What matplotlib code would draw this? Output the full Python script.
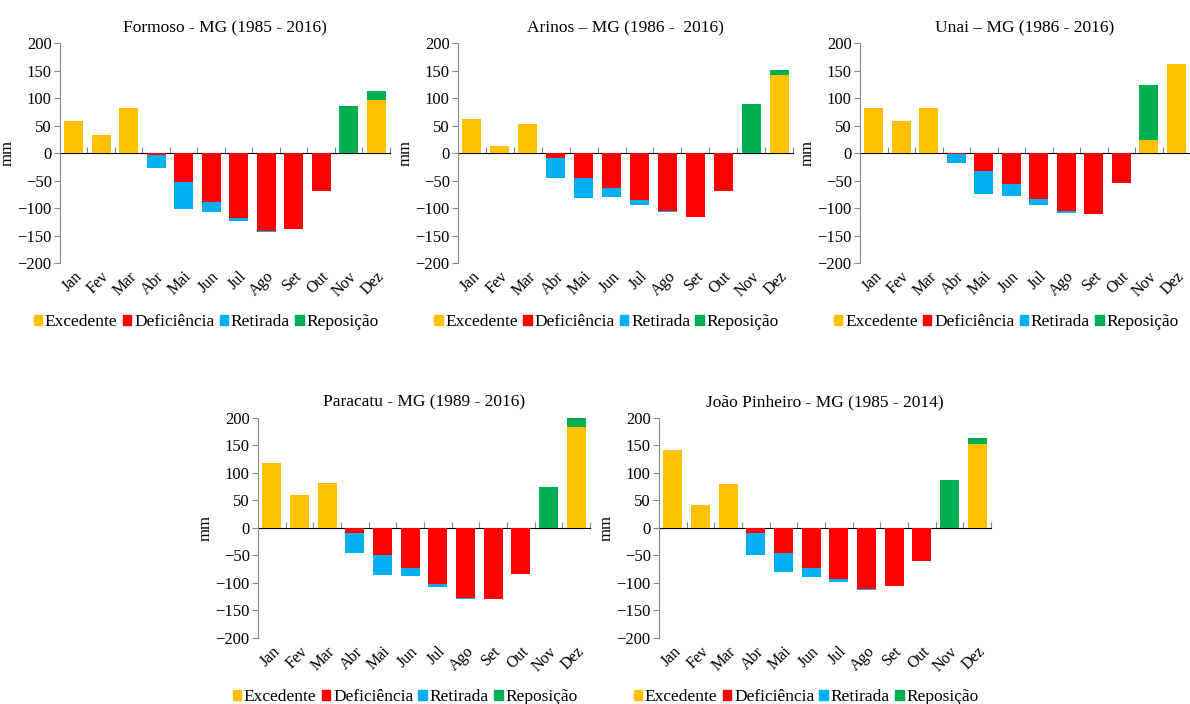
import matplotlib
matplotlib.use("Agg")
import matplotlib.pyplot as plt
from matplotlib.patches import Patch

plt.rcParams['font.family'] = ['Liberation Serif', 'DejaVu Serif']
plt.rcParams['font.size'] = 12

meses = ['Jan', 'Fev', 'Mar', 'Abr', 'Mai', 'Jun', 'Jul', 'Ago', 'Set', 'Out', 'Nov', 'Dez']
series = ['Excedente', 'Deficiência', 'Retirada', 'Reposição']
cores = ['#FFC000', '#FF0000', '#00B0F0', '#00B050']

# Formoso - MG
formoso_exc = [58, 32, 81, 0, 0, 0, 0, 0, 0, 0, 0, 97]
formoso_def = [0, 0, 0, -3, -53, -89, -118, -142, -139, -69, 0, 0]
formoso_ret = [0, 0, 0, -25, -48, -18, -5, -1, 0, 0, 0, 0]
formoso_rep = [0, 0, 0, 0, 0, 0, 0, 0, 0, 0, 85, 15]

# Arinos - MG
arinos_exc = [62, 12, 52, 0, 0, 0, 0, 0, 0, 0, 0, 141]
arinos_def = [0, 0, 0, -9, -46, -64, -86, -106, -116, -69, 0, 0]
arinos_ret = [0, 0, 0, -36, -35, -16, -8, -2, 0, 0, 0, 0]
arinos_rep = [0, 0, 0, 0, 0, 0, 0, 0, 0, 0, 90, 10]

# Unai - MG
unai_exc = [82, 59, 82, 0, 0, 0, 0, 0, 0, 0, 23, 161]
unai_def = [0, 0, 0, -2, -32, -57, -84, -106, -110, -55, 0, 0]
unai_ret = [0, 0, 0, -17, -43, -22, -11, -3, 0, 0, 0, 0]
unai_rep = [0, 0, 0, 0, 0, 0, 0, 0, 0, 0, 100, 0]

# Paracatu - MG
paracatu_exc = [118, 60, 81, 0, 0, 0, 0, 0, 0, 0, 0, 184]
paracatu_def = [0, 0, 0, -10, -50, -73, -101, -128, -130, -84, 0, 0]
paracatu_ret = [0, 0, 0, -35, -36, -15, -7, -2, 0, 0, 0, 0]
paracatu_rep = [0, 0, 0, 0, 0, 0, 0, 0, 0, 0, 75, 16]

# João Pinheiro - MG
jp_exc = [141, 42, 80, 0, 0, 0, 0, 0, 0, 0, 0, 152]
jp_def = [0, 0, 0, -10, -46, -73, -93, -111, -105, -60, 0, 0]
jp_ret = [0, 0, 0, -39, -34, -16, -6, -2, 0, 0, 0, 0]
jp_rep = [0, 0, 0, 0, 0, 0, 0, 0, 0, 0, 88, 12]

paineis = [
    ('Formoso - MG (1985 - 2016)', formoso_exc, formoso_def, formoso_ret, formoso_rep, [0.0504, 0.6264, 0.2773, 0.3125]),
    ('Arinos – MG (1986 -  2016)', arinos_exc, arinos_def, arinos_ret, arinos_rep, [0.3849, 0.6264, 0.2815, 0.3125]),
    ('Unai – MG (1986 - 2016)', unai_exc, unai_def, unai_ret, unai_rep, [0.7227, 0.6264, 0.2773, 0.3125]),
    ('Paracatu - MG (1989 - 2016)', paracatu_exc, paracatu_def, paracatu_ret, paracatu_rep, [0.2168, 0.0938, 0.2790, 0.3125]),
    ('João Pinheiro - MG (1985 - 2014)', jp_exc, jp_def, jp_ret, jp_rep, [0.5538, 0.0938, 0.2790, 0.3125]),
]

fig = plt.figure(figsize=(11.9, 7.04), dpi=100)
cinza = '#868686'

for titulo, exc, dfc, ret, rep, pos in paineis:
    ax = fig.add_axes(pos)
    x = list(range(len(meses)))
    w = 0.68
    ax.bar(x, exc, w, color=cores[0])
    ax.bar(x, rep, w, bottom=exc, color=cores[3])
    ax.bar(x, dfc, w, color=cores[1])
    ax.bar(x, ret, w, bottom=dfc, color=cores[2])

    ax.set_xlim(-0.5, 11.5)
    ax.set_ylim(-200, 200)
    ax.set_yticks(range(-200, 201, 50))
    ax.set_xticks(x)
    ax.set_xticklabels(meses, rotation=45, ha='right', va='top', rotation_mode='anchor')
    for lab in ax.get_xticklabels():
        lab.set_x(lab.get_position()[0] + 0.25)
    ax.tick_params(axis='x', length=0, pad=4, labelsize=11.5)
    ax.tick_params(axis='y', length=4, color=cinza, pad=2, labelsize=12)
    for s in ['top', 'right', 'bottom']:
        ax.spines[s].set_visible(False)
    ax.spines['left'].set_color(cinza)

    # eixo horizontal no zero com marcas entre os meses
    sec = ax.secondary_xaxis(0.5)
    sec.set_xticks([i + 0.5 for i in x])
    sec.set_xticklabels([])
    sec.tick_params(length=4, color=cinza, direction='out')
    sec.spines['bottom'].set_color(cinza)

    ax.set_ylabel('mm', labelpad=1, fontsize=12)
    ax.set_title(titulo, fontsize=12.5, pad=8)

    handles = [Patch(color=c, label=s) for c, s in zip(cores, series)]
    ax.legend(handles=handles, loc='upper center', bbox_to_anchor=(0.443, -0.2),
              ncol=4, frameon=False, handlelength=0.5, handleheight=0.5,
              handletextpad=0.15, columnspacing=0.3, borderaxespad=0, fontsize=12.5)

fig.savefig('out.png', dpi=100)
